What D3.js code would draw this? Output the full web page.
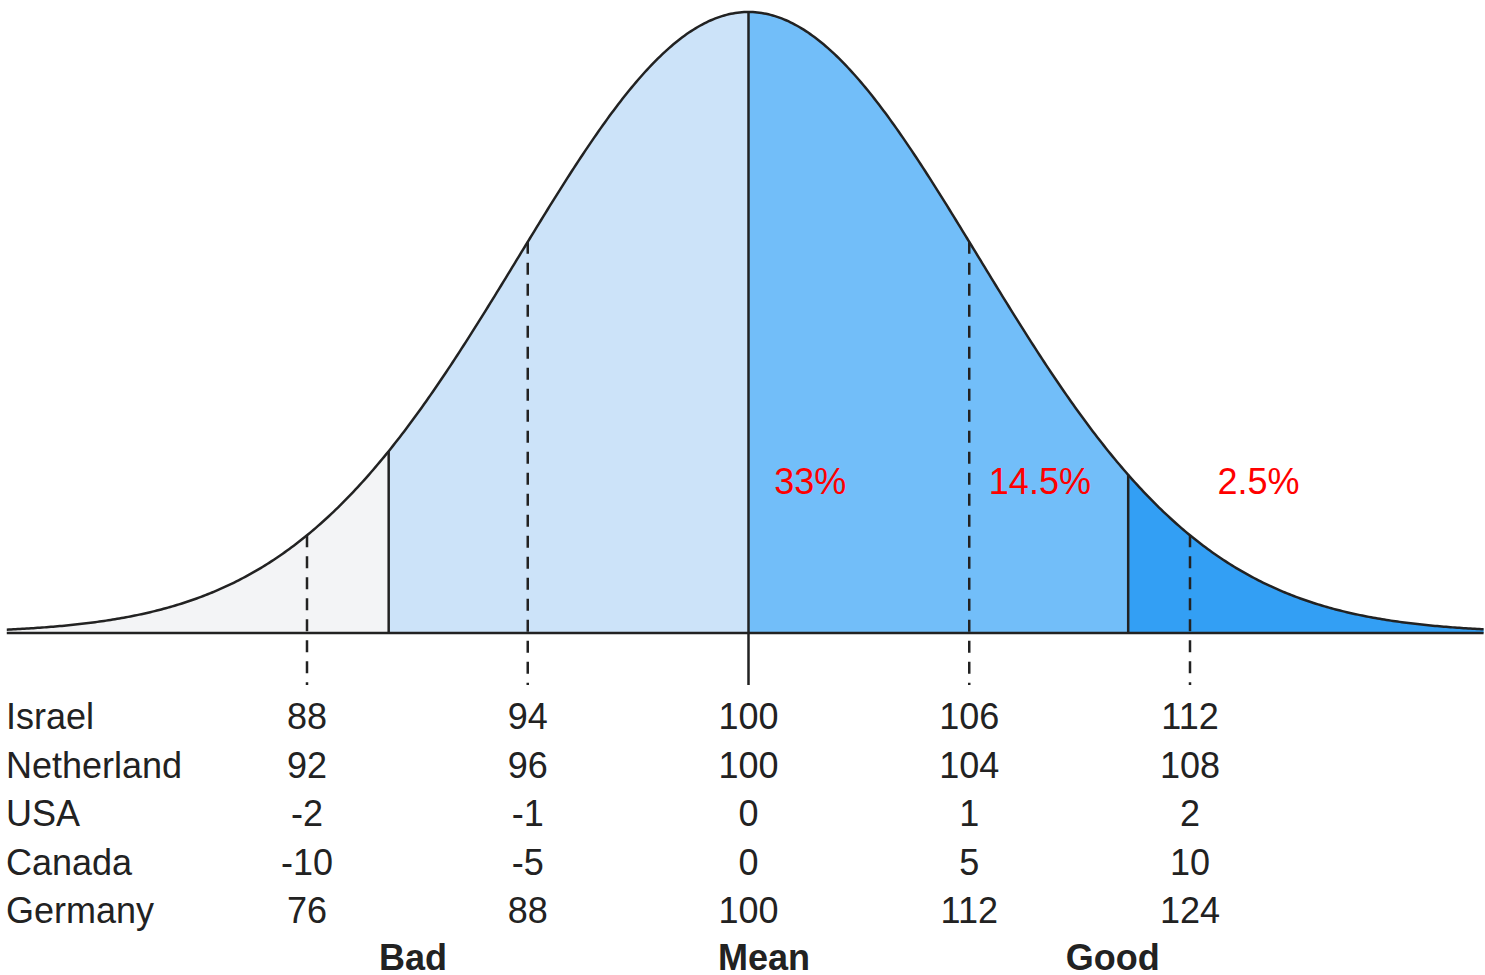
<!DOCTYPE html>
<html>
<head>
<meta charset="utf-8">
<script src="https://cdn.jsdelivr.net/npm/d3@7"></script>
<style>
  html, body { margin: 0; padding: 0; background: #fff; }
  svg text { font-family: "Liberation Sans", Arial, sans-serif; }
</style>
</head>
<body>
<div id="chart"></div>
<script>
// Données
const countries = ["Israel", "Netherland", "USA", "Canada", "Germany"];
const sdSteps = [-2, -1, 0, 1, 2];
const scores = [
    [88, 94, 100, 106, 112],
    [92, 96, 100, 104, 108],
    [-2, -1, 0, 1, 2],
    [-10, -5, 0, 5, 10],
    [76, 88, 100, 112, 124]
];
// limites des zones (en écarts-types) et couleurs
const bandEdges = [-3.36, -1.63, 0, 1.72, 3.33];
const bandColors = ["#f3f4f6", "#cce3f9", "#72bef9", "#339ff4"];
const pctLabels = ["33%", "14.5%", "2.5%"];
const pctPos = [0.28, 1.32, 2.31];
const verdicts = ["Bad", "Mean", "Good"];
const verdictPos = [-1.52, 0.07, 1.65];
const curveSd = 1.04;

// Constantes
const width = 1485, height = 975;
const fs = 36;
const x = d3.scaleLinear().domain([-2, 2]).range([307, 1190]);
const y = d3.scaleLinear().domain([0, 1]).range([633, 12]);
const dens = z => Math.exp(-z * z / (2 * curveSd * curveSd));

const svg = d3.select("#chart").append("svg")
    .attr("width", width)
    .attr("height", height);

// --- zones colorées ---
const area = d3.area()
    .x(d => x(d))
    .y0(y(0))
    .y1(d => y(dens(d)));

for (let i = 0; i < bandColors.length; i++) {
    const pts = d3.range(bandEdges[i], bandEdges[i + 1], 0.01).concat([bandEdges[i + 1]]);
    svg.append("path")
        .datum(pts)
        .attr("d", area)
        .attr("fill", bandColors[i]);
}

// --- courbe ---
const allPts = d3.range(bandEdges[0], bandEdges[4], 0.01).concat([bandEdges[4]]);
svg.append("path")
    .datum(allPts)
    .attr("d", d3.line().x(d => x(d)).y(d => y(dens(d))))
    .attr("fill", "none")
    .attr("stroke", "#222")
    .attr("stroke-width", 2.5);

// axe de base
svg.append("line")
    .attr("x1", x(bandEdges[0])).attr("x2", x(bandEdges[4]))
    .attr("y1", y(0)).attr("y2", y(0))
    .attr("stroke", "#222").attr("stroke-width", 2.5);

// limites pleines
svg.selectAll(".edge")
    .data([bandEdges[1], bandEdges[3]])
    .join("line")
    .attr("x1", d => x(d)).attr("x2", d => x(d))
    .attr("y1", d => y(dens(d))).attr("y2", y(0))
    .attr("stroke", "#222").attr("stroke-width", 2.5);

// lignes des écarts-types
svg.selectAll(".sd")
    .data(sdSteps)
    .join("line")
    .attr("x1", d => x(d)).attr("x2", d => x(d))
    .attr("y1", d => y(dens(d))).attr("y2", 685)
    .attr("stroke", "#222")
    .attr("stroke-width", 2.5)
    .attr("stroke-dasharray", d => d === 0 ? null : "12,9");

// pourcentages
svg.selectAll(".pct")
    .data(pctLabels)
    .join("text")
    .attr("x", (d, i) => x(pctPos[i]))
    .attr("y", 494)
    .attr("text-anchor", "middle")
    .attr("font-size", fs)
    .attr("fill", "#ff0000")
    .text(d => d);

// tableau
const rowY = d3.scalePoint().domain(countries).range([729, 923]);
svg.selectAll(".country")
    .data(countries)
    .join("text")
    .attr("x", 6)
    .attr("y", d => rowY(d))
    .attr("font-size", fs)
    .attr("fill", "#222")
    .text(d => d);

countries.forEach((c, r) => {
    svg.selectAll(".v" + r)
        .data(scores[r])
        .join("text")
        .attr("x", (d, i) => x(sdSteps[i]))
        .attr("y", rowY(c))
        .attr("text-anchor", "middle")
        .attr("font-size", fs)
        .attr("fill", "#222")
        .text(d => d);
});

svg.selectAll(".verdict")
    .data(verdicts)
    .join("text")
    .attr("x", (d, i) => x(verdictPos[i]))
    .attr("y", 970)
    .attr("text-anchor", "middle")
    .attr("font-size", fs)
    .attr("font-weight", "bold")
    .attr("fill", "#222")
    .text(d => d);
</script>
</body>
</html>
